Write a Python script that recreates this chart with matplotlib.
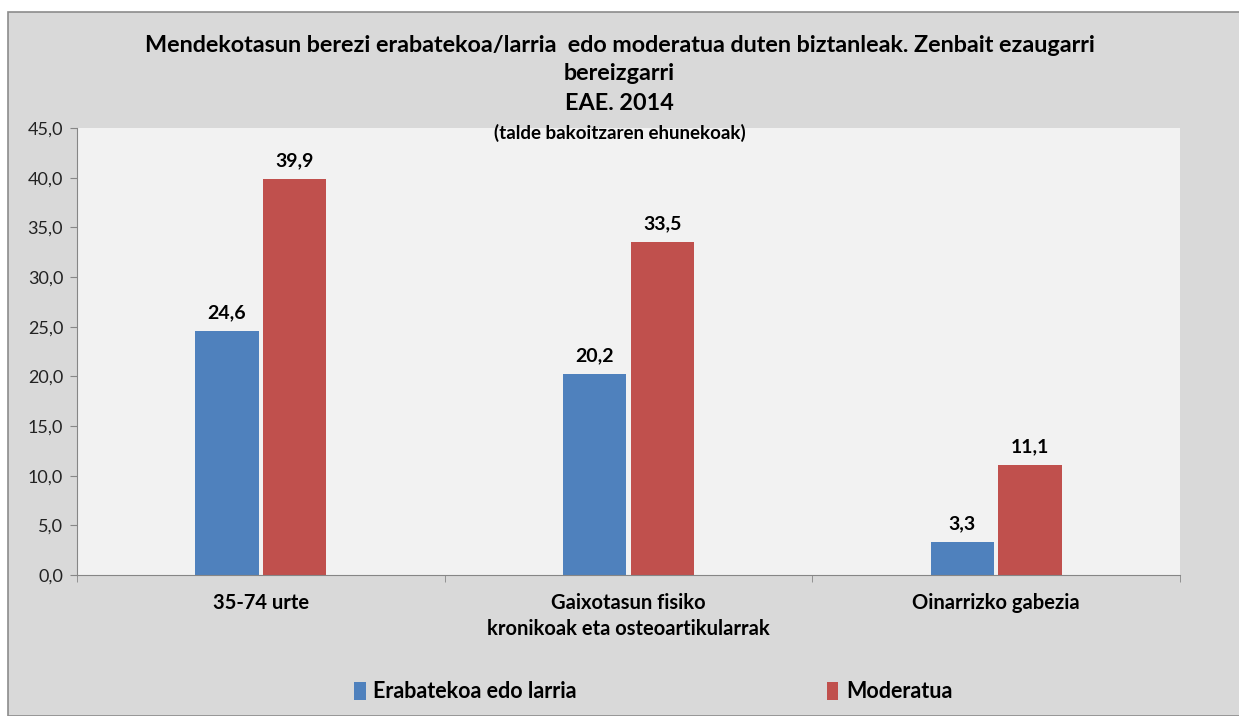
import matplotlib
matplotlib.use("Agg")
import matplotlib.pyplot as plt
from matplotlib.patches import Rectangle
import numpy as np

plt.rcParams['font.family'] = ['Lato', 'DejaVu Sans']

categories = ["35-74 urte", "Gaixotasun fisiko\nkronikoak eta osteoartikularrak", "Oinarrizko gabezia"]
severe = [24.6, 20.2, 3.3]
moderate = [39.9, 33.5, 11.1]
series_names = ["Erabatekoa edo larria", "Moderatua"]
yticks = np.arange(0, 45.1, 5)

blue = "#4F81BD"
red = "#C0504D"

fig = plt.figure(figsize=(12.39, 7.16), dpi=100)
fig.patch.set_facecolor("white")
# outer chart box
fig.patches.append(Rectangle((8 / 1239, 0), 1.0, 1 - 12 / 716, transform=fig.transFigure,
                             facecolor="#D9D9D9", edgecolor="#8C8C8C", linewidth=1.2, zorder=-5))

ax = fig.add_axes([77 / 1239, 1 - 575 / 716, (1180 - 77) / 1239, (575 - 128) / 716])
ax.set_zorder(2)
ax.set_facecolor("#F2F2F2")

x = np.arange(len(categories))
w = 0.172
gap = 0.006
b1 = ax.bar(x - w / 2 - gap, severe, w, color=blue, label=series_names[0], zorder=2)
b2 = ax.bar(x + w / 2 + gap, moderate, w, color=red, label=series_names[1], zorder=2)

for bars in (b1, b2):
    for r in bars:
        h = r.get_height()
        ax.annotate(f"{h:.1f}".replace(".", ","), (r.get_x() + r.get_width() / 2, h),
                    xytext=(0, 7), textcoords="offset points", ha="center", va="bottom",
                    fontsize=14, fontweight="bold", color="black")

ax.set_xlim(-0.5, 2.5)
ax.set_ylim(0, 45)
ax.set_yticks(yticks)
ax.set_yticklabels([f"{v:.1f}".replace(".", ",") for v in yticks], fontsize=13, color="#222222")
ax.set_xticks(x)
ax.set_xticklabels(categories, fontsize=14.5, fontweight="bold", linespacing=1.4)
ax.tick_params(axis="x", length=0, pad=13)
ax.set_xticks([-0.5, 0.5, 1.5, 2.5], minor=True)
ax.tick_params(axis="x", which="minor", length=5, color="#868686")
ax.tick_params(axis="y", length=5, color="#868686", pad=5)
for s in ("top", "right"):
    ax.spines[s].set_visible(False)
for s in ("left", "bottom"):
    ax.spines[s].set_color("#868686")

fig.text(0.5, 1 - 45 / 716, "Mendekotasun berezi erabatekoa/larria  edo moderatua duten biztanleak. Zenbait ezaugarri",
         ha="center", va="center", fontsize=16.8, fontweight="bold", zorder=5)
fig.text(0.5, 1 - 73 / 716, "bereizgarri", ha="center", va="center", fontsize=16.8, fontweight="bold", zorder=5)
fig.text(0.5, 1 - 103 / 716, "EAE. 2014", ha="center", va="center", fontsize=16.8, fontweight="bold", zorder=5)
fig.text(0.5, 1 - 133 / 716, "(talde bakoitzaren ehunekoak)", ha="center", va="center", fontsize=13.5,
         fontweight="bold", zorder=5)

leg = fig.legend(handles=[b1, b2], labels=series_names, loc="center left", bbox_to_anchor=(354 / 1239, 1 - 692 / 716),
                 ncol=2, frameon=False, fontsize=15.5, columnspacing=11.6, handlelength=0.55, handleheight=0.85,
                 handletextpad=0.35, borderpad=0, borderaxespad=0)
for t in leg.get_texts():
    t.set_fontweight("bold")

fig.savefig("out.png", dpi=100)
